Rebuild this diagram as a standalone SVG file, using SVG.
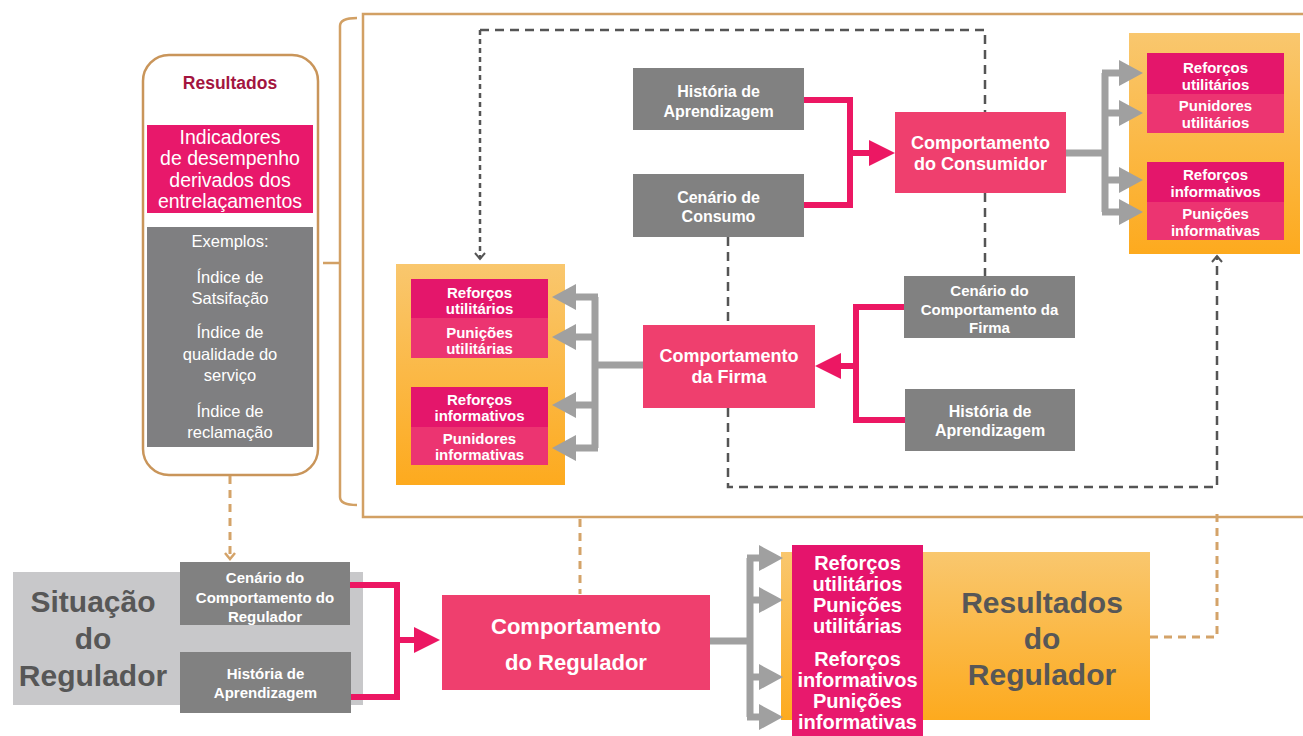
<svg xmlns="http://www.w3.org/2000/svg" width="1303" height="736" viewBox="0 0 1303 736">
<defs>
<linearGradient id="og" x1="0" y1="0" x2="0" y2="1">
<stop offset="0" stop-color="#f9c76e"/>
<stop offset="1" stop-color="#fdaa1e"/>
</linearGradient>
<marker id="ahGrey" markerUnits="userSpaceOnUse" markerWidth="24" markerHeight="26" viewBox="0 0 24 26" refX="12" refY="13" orient="auto">
<path d="M0,0 L24,13 L0,26 z" fill="#a0a0a0"/>
</marker>
<marker id="ahPink" markerUnits="userSpaceOnUse" markerWidth="26" markerHeight="26" viewBox="0 0 26 26" refX="12" refY="13" orient="auto">
<path d="M0,0 L26,13 L0,26 z" fill="#ec1763"/>
</marker>
<marker id="ahDash" markerUnits="userSpaceOnUse" markerWidth="14" markerHeight="14" viewBox="-8 -7 14 14" refX="0" refY="0" orient="auto">
<path d="M-6,-5 L0,0 L-6,5" fill="none" stroke="#555" stroke-width="2"/>
</marker>
<marker id="ahDashO" markerUnits="userSpaceOnUse" markerWidth="14" markerHeight="14" viewBox="-8 -7 14 14" refX="0" refY="0" orient="auto">
<path d="M-6,-5 L0,0 L-6,5" fill="none" stroke="#d4a369" stroke-width="2.5"/>
</marker>
<style>
text{font-family:"Liberation Sans",Arial,Helvetica,sans-serif;text-anchor:middle;dominant-baseline:central}
.gbox{fill:#818181}
.pbox{fill:#ef3f6e}
.mg1{fill:#e4166b}
.mg2{fill:#ec3471}
.obox{fill:url(#og)}
.wt{fill:#fff;font-weight:bold}
.t16{font-size:16px}
.t15{font-size:15px}
.t18{font-size:18px}
.t22{font-size:22px}
.t20{font-size:20px}
.big{fill:#575757;font-weight:bold;font-size:30px}
.pl{fill:#fff;font-size:19.5px}
.gl{fill:#fff;font-size:16.5px}
.dg{fill:none;stroke:#555;stroke-width:2.5;stroke-dasharray:9 6}
.dg2{fill:none;stroke:#555;stroke-width:2.5;stroke-dasharray:5 4}
.do{fill:none;stroke:#d4a369;stroke-width:3;stroke-dasharray:8 6}
.pk{fill:none;stroke:#ec1763;stroke-width:6}
.gy{fill:none;stroke:#a0a0a0;stroke-width:7}
.frame{fill:none;stroke:#d2a064;stroke-width:2.5}
</style>
</defs>
<rect width="1303" height="736" fill="#fff"/>

<g id="frame">
<rect class="frame" x="363" y="14" width="960" height="503"/>
<path class="frame" d="M357,18 Q340,18 340,26 L340,497 Q340,505 357,505 M323,263 L340,263"/>
</g>

<g id="resultados-panel">
<rect x="143" y="55" width="175" height="420" rx="26" fill="#fff" stroke="#c9955a" stroke-width="2.5"/>
<text x="230" y="83" font-size="17.5" font-weight="bold" fill="#a3153f">Resultados</text>
<rect x="147" y="125" width="166" height="88" fill="#e8186b"/>
<text class="pl" x="230" y="137">Indicadores</text>
<text class="pl" x="230" y="158">de desempenho</text>
<text class="pl" x="230" y="180">derivados dos</text>
<text class="pl" x="230" y="201">entrelaçamentos</text>
<rect x="147" y="227" width="166" height="220" fill="#7f7f81"/>
<text class="gl" x="230" y="241">Exemplos:</text>
<text class="gl" x="230" y="277">Índice de</text>
<text class="gl" x="230" y="298">Satsifação</text>
<text class="gl" x="230" y="332">Índice de</text>
<text class="gl" x="230" y="354">qualidade do</text>
<text class="gl" x="230" y="375">serviço</text>
<text class="gl" x="230" y="411">Índice de</text>
<text class="gl" x="230" y="432">reclamação</text>
</g>

<g id="historia-consumidor">
<rect class="gbox" x="633" y="68" width="171" height="62"/>
<text class="wt t16" x="718.5" y="91">História de</text>
<text class="wt t16" x="718.5" y="111">Aprendizagem</text>
</g>
<g id="cenario-consumo">
<rect class="gbox" x="633" y="174" width="171" height="63"/>
<text class="wt t16" x="718.5" y="197">Cenário de</text>
<text class="wt t16" x="718.5" y="216">Consumo</text>
</g>
<g id="comportamento-consumidor">
<rect class="pbox" x="895" y="112" width="171" height="81"/>
<text class="wt t18" x="980.5" y="143">Comportamento</text>
<text class="wt t18" x="980.5" y="164">do Consumidor</text>
</g>
<g id="consequencias-consumidor">
<rect class="obox" x="1129" y="33" width="171" height="221"/>
<rect class="mg1" x="1147" y="53" width="137" height="41"/>
<rect class="mg2" x="1147" y="94" width="137" height="39"/>
<rect class="mg1" x="1147" y="162" width="137" height="40"/>
<rect class="mg2" x="1147" y="202" width="137" height="38"/>
<text class="wt t15" x="1215.5" y="67">Reforços</text>
<text class="wt t15" x="1215.5" y="84">utilitários</text>
<text class="wt t15" x="1215.5" y="105">Punidores</text>
<text class="wt t15" x="1215.5" y="122">utilitários</text>
<text class="wt t15" x="1215.5" y="174">Reforços</text>
<text class="wt t15" x="1215.5" y="191">informativos</text>
<text class="wt t15" x="1215.5" y="213">Punições</text>
<text class="wt t15" x="1215.5" y="230">informativas</text>
</g>

<g id="consequencias-firma">
<rect class="obox" x="396" y="264" width="169" height="221"/>
<rect class="mg1" x="411" y="279" width="137" height="39"/>
<rect class="mg2" x="411" y="318" width="137" height="40"/>
<rect class="mg1" x="411" y="387" width="137" height="40"/>
<rect class="mg2" x="411" y="427" width="137" height="38"/>
<text class="wt t15" x="479.5" y="292">Reforços</text>
<text class="wt t15" x="479.5" y="308">utilitários</text>
<text class="wt t15" x="479.5" y="332">Punições</text>
<text class="wt t15" x="479.5" y="348">utilitárias</text>
<text class="wt t15" x="479.5" y="399">Reforços</text>
<text class="wt t15" x="479.5" y="415">informativos</text>
<text class="wt t15" x="479.5" y="438">Punidores</text>
<text class="wt t15" x="479.5" y="454">informativas</text>
</g>
<g id="comportamento-firma">
<rect class="pbox" x="643" y="325" width="172" height="83"/>
<text class="wt t18" x="729" y="356">Comportamento</text>
<text class="wt t18" x="729" y="377">da Firma</text>
</g>
<g id="cenario-firma">
<rect class="gbox" x="904" y="276" width="171" height="62"/>
<text class="wt t15" x="989.5" y="290">Cenário do</text>
<text class="wt t15" x="989.5" y="309">Comportamento da</text>
<text class="wt t15" x="989.5" y="327">Firma</text>
</g>
<g id="historia-firma">
<rect class="gbox" x="905" y="389" width="170" height="62"/>
<text class="wt t16" x="990" y="411">História de</text>
<text class="wt t16" x="990" y="430">Aprendizagem</text>
</g>

<g id="situacao-regulador">
<rect x="13" y="572" width="350" height="133" fill="#c8c8ca"/>
<text class="big" x="93" y="601">Situação</text>
<text class="big" x="93" y="638">do</text>
<text class="big" x="93" y="675">Regulador</text>
</g>
<g id="cenario-regulador">
<rect class="gbox" x="180" y="562" width="170" height="63"/>
<text class="wt t15" x="265" y="577">Cenário do</text>
<text class="wt t15" x="265" y="597">Comportamento do</text>
<text class="wt t15" x="265" y="616">Regulador</text>
</g>
<g id="historia-regulador">
<rect class="gbox" x="180" y="652" width="171" height="61"/>
<text class="wt t15" x="265.5" y="673">História de</text>
<text class="wt t15" x="265.5" y="692">Aprendizagem</text>
</g>
<g id="comportamento-regulador">
<rect class="pbox" x="442" y="595" width="268" height="95"/>
<text class="wt t22" x="576" y="626">Comportamento</text>
<text class="wt t22" x="576" y="662">do Regulador</text>
</g>
<g id="resultados-regulador">
<rect class="obox" x="781" y="552" width="369" height="168"/>
<rect x="792" y="545" width="131" height="95" fill="#e5146c"/>
<rect x="792" y="640" width="131" height="96" fill="#e8196d"/>
<text class="wt t20" x="857.5" y="563">Reforços</text>
<text class="wt t20" x="857.5" y="584">utilitários</text>
<text class="wt t20" x="857.5" y="605">Punições</text>
<text class="wt t20" x="857.5" y="626">utilitárias</text>
<text class="wt t20" x="857.5" y="659">Reforços</text>
<text class="wt t20" x="857.5" y="680">informativos</text>
<text class="wt t20" x="857.5" y="701">Punições</text>
<text class="wt t20" x="857.5" y="722">informativas</text>
<text class="big" x="1042" y="602">Resultados</text>
<text class="big" x="1042" y="638">do</text>
<text class="big" x="1042" y="674">Regulador</text>
</g>

<g id="connectors">
<path class="dg" d="M480,30 L985,30 L985,112"/>
<path class="dg2" d="M480,30 L480,259" marker-end="url(#ahDash)"/>
<path class="dg" d="M985,193 L985,276"/>
<path class="dg" d="M728,237 L728,325"/>
<path class="dg" d="M728,408 L728,487 L1217,487 L1217,256" marker-end="url(#ahDash)"/>
<path class="do" d="M230,476 L230,559" marker-end="url(#ahDashO)"/>
<path class="do" d="M580,519 L580,594"/>
<path class="do" d="M1150,637 L1217,637 L1217,513"/>

<path class="pk" d="M804,100 L850,100 L850,205 L804,205"/>
<path class="pk" d="M850,153 L881,153" marker-end="url(#ahPink)"/>
<path class="pk" d="M904,307 L856,307 L856,420 L905,420"/>
<path class="pk" d="M856,366 L829,366" marker-end="url(#ahPink)"/>
<path class="pk" d="M350,585 L397,585 L397,697 L351,697"/>
<path class="pk" d="M397,640 L426,640" marker-end="url(#ahPink)"/>

<path class="gy" d="M1066,153 L1105,153 M1105,73 L1105,212"/>
<path class="gy" d="M1102,73 L1131,73" marker-end="url(#ahGrey)"/>
<path class="gy" d="M1102,113 L1131,113" marker-end="url(#ahGrey)"/>
<path class="gy" d="M1102,180 L1131,180" marker-end="url(#ahGrey)"/>
<path class="gy" d="M1102,212 L1131,212" marker-end="url(#ahGrey)"/>

<path class="gy" d="M643,365 L595,365 M595,297 L595,448"/>
<path class="gy" d="M598,297 L564,297" marker-end="url(#ahGrey)"/>
<path class="gy" d="M598,337 L564,337" marker-end="url(#ahGrey)"/>
<path class="gy" d="M598,405 L564,405" marker-end="url(#ahGrey)"/>
<path class="gy" d="M598,448 L564,448" marker-end="url(#ahGrey)"/>

<path class="gy" d="M710,641 L750,641 M750,558 L750,717"/>
<path class="gy" d="M747,558 L771,558" marker-end="url(#ahGrey)"/>
<path class="gy" d="M747,600 L771,600" marker-end="url(#ahGrey)"/>
<path class="gy" d="M747,677 L771,677" marker-end="url(#ahGrey)"/>
<path class="gy" d="M747,717 L771,717" marker-end="url(#ahGrey)"/>
</g>
</svg>
